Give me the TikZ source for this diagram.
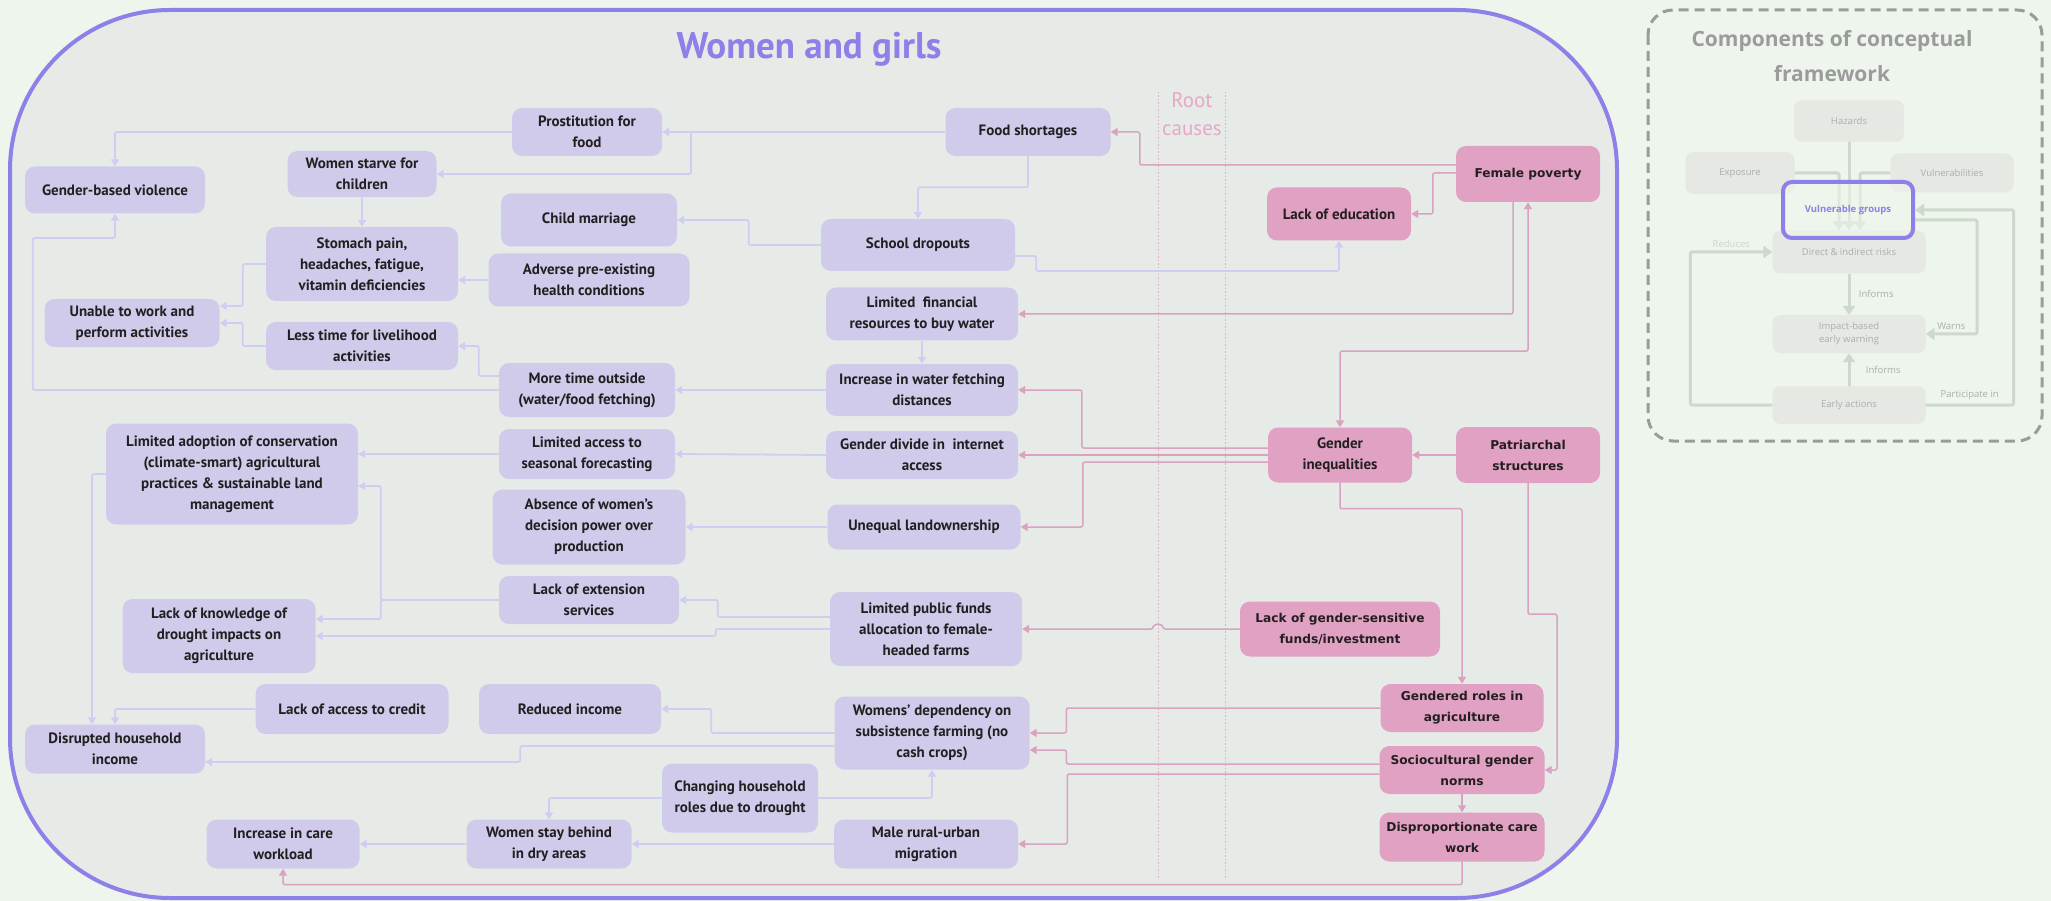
\documentclass[tikz,border=0pt]{standalone}
\usepackage{fontspec}
\setmainfont{PT Sans}
\newfontfamily\wfont{DejaVu Sans}
\newfontfamily\cfont{Open Sans}
\usetikzlibrary{arrows.meta}
\definecolor{bg}{HTML}{EDF5EC}
\definecolor{inner}{HTML}{E7EBE7}
\definecolor{frame}{HTML}{8E7FE9}
\definecolor{lavfill}{HTML}{D0CBEB}
\definecolor{lavline}{HTML}{D1CCF1}
\definecolor{pinkfill}{HTML}{E0A1C3}
\definecolor{pinkline}{HTML}{D9A2C1}
\definecolor{rootc}{HTML}{E8A6CA}
\definecolor{txt}{HTML}{231F20}
\definecolor{cgray}{HTML}{9B9B9B}
\definecolor{cbox}{HTML}{E6E8E4}
\definecolor{carrow}{HTML}{CFD8CC}
\definecolor{ctext}{HTML}{ADADAD}
\begin{document}
\begin{tikzpicture}[x=1pt, y=-1pt,
  box/.style 2 args={rounded corners=10pt, minimum width=#1pt, minimum height=#2pt, align=center, inner sep=1pt, text=txt, font=\fontsize{15}{21}\selectfont\bfseries},
  lav/.style 2 args={box={#1}{#2}, fill=lavfill},
  pnk/.style 2 args={box={#1}{#2}, fill=pinkfill, font=\wfont\fontsize{12.2}{21}\selectfont\bfseries},
  slim/.style={font=\fontsize{15}{21}\selectfont\bfseries},
  la/.style={draw=lavline, line width=1.8pt, rounded corners=2pt, -{Triangle[length=7pt,width=8pt]}},
  pa/.style={draw=pinkline, line width=1.5pt, rounded corners=2pt, -{Triangle[length=7pt,width=8pt]}},
  pab/.style={pa, {Triangle[length=7pt,width=8pt]}-{Triangle[length=7pt,width=8pt]}},
  cb/.style 2 args={rounded corners=8pt, fill=cbox, minimum width=#1pt, minimum height=#2pt, align=center, text=ctext, font=\cfont\fontsize{9.5}{13}\selectfont},
  ca/.style={draw=carrow, line width=3pt, rounded corners=2pt, -{Triangle[length=9pt,width=12pt]}},
  cl/.style={text=ctext, font=\cfont\fontsize{9.5}{11}\selectfont}
]
\fill[bg] (0,0) rectangle (2051,901);
\useasboundingbox (0,0) rectangle (2051,901);
\draw[frame, line width=4pt, fill=inner, rounded corners=160pt] (10,10) rectangle (1617,898);
\node[text=frame, font=\fontsize{37}{40}\selectfont\bfseries] (title) at (809,49) {Women and girls};

\draw[rootc, line width=1pt, dash pattern=on 1.5pt off 2pt] (1158,92) -- (1158,879);
\draw[rootc, line width=1pt, dash pattern=on 1.5pt off 2pt] (1225,92) -- (1225,879);
\node[text=rootc, font=\fontsize{21}{28}\selectfont, align=center] (root) at (1192,114) {Root\\causes};

\node[lav={150}{48}] (prost) at (587,132) {Prostitution for\\food};
\node[lav={149}{46}] (starve) at (362,174) {Women starve for\\children};
\node[lav={180}{47}] (gbv) at (115,190) {Gender-based violence};
\node[lav={176}{53}] (child) at (589,220) {Child marriage};
\node[lav={192}{74}] (stomach) at (362,264) {Stomach pain,\\headaches, fatigue,\\vitamin deficiencies};
\node[lav={201}{53}] (adverse) at (589,280) {Adverse pre-existing\\health conditions};
\node[lav={175}{48}] (unable) at (132,323) {Unable to work and\\perform activities};
\node[lav={192}{48}] (lesstime) at (362,346) {Less time for livelihood\\activities};
\node[lav={176}{54}] (outside) at (587,390) {More time outside\\(water/food fetching)};
\node[lav={165}{48}] (food) at (1028,132) {Food shortages};
\node[lav={194}{52}] (school) at (918,245) {School dropouts};
\node[lav={192}{53}] (finance) at (922,314) {Limited~ financial\\resources to buy water};
\node[lav={192}{52}] (water) at (922,390) {Increase in water fetching\\distances};
\node[lav={252}{101}] (adoption) at (232,474) {Limited adoption of conservation\\(climate-smart) agricultural\\practices \& sustainable land\\management};
\node[lav={176}{50}] (forecast) at (587,454) {Limited access to\\seasonal forecasting};
\node[lav={192}{48}] (internet) at (922,455) {Gender divide in~ internet\\access};
\node[lav={193}{75}] (decision) at (589,527) {Absence of women's\\decision power over\\production};
\node[lav={193}{45}] (land) at (924,527) {Unequal landownership};
\node[lav={180}{48}] (extension) at (589,600) {Lack of extension\\services};
\node[lav={193}{74}] (knowledge) at (219,636) {Lack of knowledge of\\drought impacts on\\agriculture};
\node[lav={192}{74}] (funds) at (926,629) {Limited public funds\\allocation to female-\\headed farms};
\node[lav={193}{50}] (credit) at (352,709) {Lack of access to credit};
\node[lav={182}{50}] (reduced) at (570,709) {Reduced income};
\node[lav={180}{49}] (disrupted) at (115,749) {Disrupted household\\income};
\node[lav={195}{73}] (dependency) at (932,733) {Womens' dependency on\\subsistence farming (no\\cash crops)};
\node[lav={156}{69}] (changing) at (740,798) {Changing household\\roles due to drought};
\node[lav={153}{49}] (care) at (283,844) {Increase in care\\workload};
\node[lav={165}{49}] (behind) at (549,844) {Women stay behind\\in dry areas};
\node[lav={184}{49}] (migration) at (926,844) {Male rural-urban\\migration};

\node[pnk={144}{56}] (poverty) at (1528,174) {Female poverty};
\node[pnk={144}{53}, slim] (education) at (1339,214) {Lack of education};
\node[pnk={144}{55}, slim] (inequal) at (1340,455) {Gender\\inequalities};
\node[pnk={144}{56}] (patriarch) at (1528,455) {Patriarchal\\structures};
\node[pnk={200}{55}] (sensitive) at (1340,629) {Lack of gender-sensitive\\funds/investment};
\node[pnk={163}{48}] (roles) at (1462,708) {Gendered roles in\\agriculture};
\node[pnk={165}{48}] (norms) at (1462,770) {Sociocultural gender\\norms};
\node[pnk={165}{49}] (dispro) at (1462,837) {Disproportionate care\\work};

\coordinate (fsplit) at (691,132);
\coordinate (hop) at (1163,629);

\draw[la] (prost.west) -| (gbv.north);
\draw[la] (food.west) -- (prost.east);
\draw[la] (fsplit) |- (starve.east);
\draw[la] (starve.south) -- (stomach.north);
\draw[la] (stomach.west) -- ++(-23,0) |- ([yshift=17pt]unable.east);
\draw[la] (lesstime.west) -- ++(-23,0) |- (unable.east);
\draw[la] (adverse.west) -- (adverse.west -| stomach.east);
\draw[la] (school.west) -- ++(-72,0) |- (child.east);
\draw[la] ([yshift=14pt]outside.west) -- ++(-20,0) |- (lesstime.east);
\draw[la] (outside.west) -- ++(-466,0) -- ++(0,-152) -| (gbv.south);
\draw[la] (water.west) -- (outside.east);
\draw[la] (food.south) -- ++(0,31) -| (school.north);
\draw[la] ([yshift=-11pt]school.east) -- ++(21,0) -- ++(0,15) -| (education.south);
\draw[la] (finance.south) -- (water.north);
\draw[la] (internet.west) -- (forecast.east);
\draw[la] (forecast.west) -- (forecast.west -| adoption.east);
\draw[la] (land.west) -- (decision.east);
\draw[la] (extension.west) -- ++(-118,0) |- ([yshift=-12pt]adoption.east);
\draw[la] (extension.west) -- ++(-118,0) |- ([yshift=17pt]knowledge.east);
\draw[la] ([yshift=12pt]funds.west) -- ++(-112,0) |- (extension.east);
\draw[la] (funds.west) -- ++(-114,0) |- (knowledge.east);
\draw[la] (dependency.west) -- ++(-123,0) |- (reduced.east);
\draw[la] ([yshift=-13pt]dependency.west) -- ++(-314,0) |- ([yshift=-13pt]disrupted.east);
\draw[la] (changing.east) -| (dependency.south);
\draw[la] (changing.west) -| (behind.north);
\draw[la] (migration.west) -- (behind.east);
\draw[la] (behind.west) -- (care.east);
\draw[la] (credit.west) -| (disrupted.north);
\draw[la] (adoption.west) -| ([xshift=-23pt]disrupted.north);

\draw[pa] ([yshift=9pt]poverty.west) -- ++(-316,0) |- (food.east);
\draw[pa] ([yshift=1pt]poverty.west) -- ++(-23,0) |- (education.east);
\draw[pa] ([xshift=-15pt]poverty.south) |- (finance.east);
\draw[pab] (poverty.south) -- ++(0,149) -| (inequal.north);
\draw[pa] (patriarch.west) -- (inequal.east);
\draw[pa] ([yshift=7pt]inequal.west) -- ++(-186,0) |- (water.east);
\draw[pa] (inequal.west) -- (internet.east);
\draw[pa] ([yshift=-7pt]inequal.west) -- ++(-185,0) |- (land.east);
\draw[pa] (inequal.south) -- ++(0,26) -| (roles.north);
\draw[pa] (patriarch.south) -- ++(0,131) -- ++(29,0) |- (norms.east);
\draw[pa] (sensitive.west) -- (hop) arc[start angle=0, end angle=-180, radius=5] -- (funds.east);
\draw[pa] (roles.west) -- ++(-314,0) |- (dependency.east);
\draw[pa] ([yshift=6pt]norms.west) -- ++(-313,0) |- ([yshift=-17pt]dependency.east);
\draw[pa] ([yshift=-4pt]norms.west) -- ++(-312,0) |- (migration.east);
\draw[pa] (norms.south) -- (dispro.north);
\draw[pa] (dispro.south) -- ++(0,23) -| (care.south);

\draw[cgray, line width=3pt, dash pattern=on 10pt off 6pt, rounded corners=25pt] (1648,10) rectangle (2042,441);
\node[text=cgray, font=\cfont\fontsize{21}{35}\selectfont\bfseries, align=center] (ctitle) at (1832,56) {Components of conceptual\\framework};
\node[cb={110}{42}] (hazards) at (1849,121) {Hazards};
\node[cb={109}{42}] (exposure) at (1740,173) {Exposure};
\node[cb={123}{39}] (vulnerab) at (1952,173) {Vulnerabilities};
\node[cb={153}{43}] (risks) at (1849,252) {Direct \& indirect risks};
\node[cb={153}{38}] (warning) at (1849,334) {Impact-based\\early warning};
\node[cb={153}{38}] (actions) at (1849,405) {Early actions};
\draw[ca] (hazards.south) -- (risks.north);
\draw[ca] (exposure.east) -| ([xshift=-10pt]risks.north);
\draw[ca] (vulnerab.west) -| ([xshift=11pt]risks.north);
\node[draw=frame, line width=4pt, rounded corners=9pt, fill=bg, fill opacity=0.6, text opacity=1, text=frame, minimum width=130pt, minimum height=56pt, font=\cfont\fontsize{9.5}{11}\selectfont\bfseries] (vgroups) at (1848,210) {Vulnerable groups};
\draw[ca] (risks.south) -- node[cl, right, xshift=5pt]{Informs} (warning.north);
\draw[ca] (actions.north) -- node[cl, right, xshift=12pt]{Informs} (warning.south);
\draw[ca] (actions.west) -- ++(-82,0) |- node[cl, pos=0.75, above, text=ctext!55]{Reduces} (risks.west);
\draw[ca] (actions.east) -- node[cl, above]{Participate in} ++(88,0) |- (vgroups.east);
\draw[ca] ([yshift=-10pt]vgroups.east) -- ++(62,0) |- node[cl, pos=0.75, above]{Warns} (warning.east);
\end{tikzpicture}
\end{document}
